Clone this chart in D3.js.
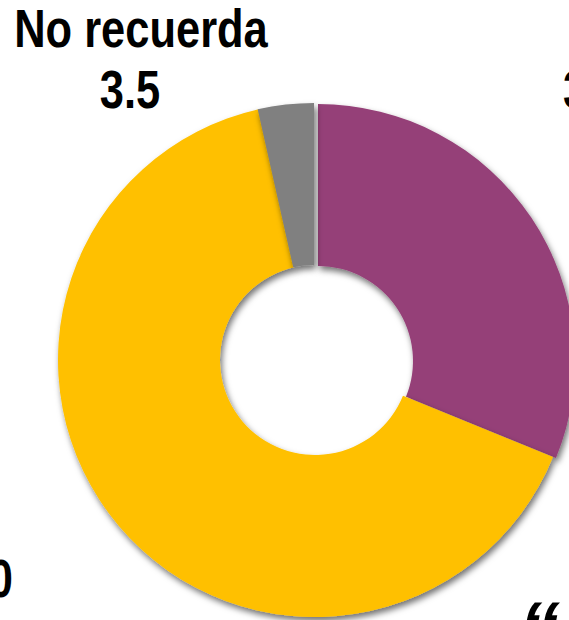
<!DOCTYPE html>
<html>
<head>
<meta charset="utf-8">
<script src="https://cdn.jsdelivr.net/npm/d3@7"></script>
<style>
  html, body { margin: 0; padding: 0; background: #fff; overflow: hidden; }
  svg { display: block; }
  .lbl { font-family: "Liberation Sans", Arial, sans-serif; font-weight: bold; fill: #000; }
</style>
</head>
<body>
<svg></svg>
<script>
// data
let categories = ['Sí', 'No', 'No recuerda']
let values = [31.0, 65.0, 3.5]
let colors = ['#954178', '#FFC000', '#808080']

let svgWidth = 569
let svgHeight = 620
let cx = 315, cy = 360
let outerR = 257, innerR = 95

let svg = d3.select('svg')
    .attr('width', svgWidth)
    .attr('height', svgHeight)

// soft drop shadow like the office chart
let defs = svg.append('defs')
let f = defs.append('filter').attr('id', 'shadow')
    .attr('x', '-20%').attr('y', '-20%').attr('width', '140%').attr('height', '140%')
f.append('feDropShadow')
    .attr('dx', 2).attr('dy', 4)
    .attr('stdDeviation', 3)
    .attr('flood-color', '#000')
    .attr('flood-opacity', 0.55)

let pie = d3.pie().sort(null).value(d => d)
let arc = d3.arc().innerRadius(innerR).outerRadius(outerR)

let g = svg.append('g')
    .attr('transform', `translate(${cx},${cy})`)

g.selectAll('path').data(pie(values))
    .enter()
    .append('path')
    .attr('d', arc)
    .attr('fill', (d, i) => colors[i])
    .attr('filter', 'url(#shadow)')
    .attr('transform', (d, i) => i == 0 ? 'translate(3,1)' : (i == 2 ? 'translate(-1,0)' : null))

// labels: name line and value line (partly outside the crop)
let labelPos = [
    {x: 580, y: 47, vx: 563, vy: 108, anchor: 'start'},
    {x: -4, y: 535, vx: 13, vy: 597, anchor: 'end'},
    {x: 141, y: 47, vx: 130, vy: 108, anchor: 'middle'}
]
let sx = 0.82
function addText(x, y, txt, size, anchor){
    svg.append('g')
        .attr('transform', `translate(${x},${y}) scale(${sx},1)`)
        .append('text')
        .attr('class', 'lbl')
        .attr('text-anchor', anchor)
        .style('font-size', size + 'px')
        .text(txt)
}
categories.forEach(function(c, i){
    addText(labelPos[i].x, labelPos[i].y, c, 53, i == 2 ? 'middle' : labelPos[i].anchor)
    addText(labelPos[i].vx, labelPos[i].vy, values[i].toFixed(1), 53, labelPos[i].anchor)
})

// start of a quoted note below the chart, cut by the frame
svg.append('text')
    .attr('class', 'lbl')
    .attr('x', 518).attr('y', 660)
    .style('font-size', '84px')
    .style('font-style', 'italic')
    .text('“')
</script>
</body>
</html>
